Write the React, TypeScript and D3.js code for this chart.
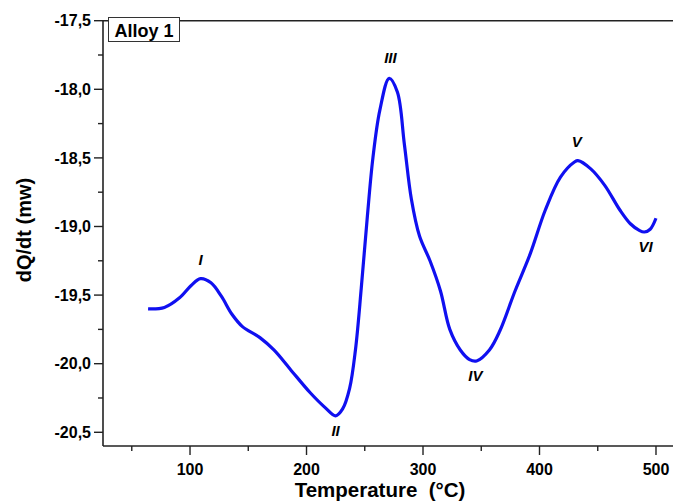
import * as d3 from 'd3';
import { useEffect, useRef } from 'react';

const temps = [64, 78, 91, 101, 109, 118, 127, 136, 145, 160, 172, 186, 203, 216, 225, 231, 237, 242, 247, 252, 257, 263, 271, 278, 284, 290, 297, 306, 315, 323, 332, 340, 346, 357, 366, 379, 392, 405, 418, 430, 433, 444, 456, 469, 478, 486, 490, 495, 500];
const values = [-19.6, -19.59, -19.52, -19.43, -19.38, -19.41, -19.51, -19.64, -19.73, -19.81, -19.9, -20.04, -20.21, -20.32, -20.38, -20.33, -20.18, -19.9, -19.45, -18.95, -18.5, -18.15, -17.92, -18.02, -18.4, -18.8, -19.07, -19.25, -19.47, -19.75, -19.9, -19.97, -19.98, -19.9, -19.76, -19.47, -19.2, -18.88, -18.64, -18.53, -18.52, -18.58, -18.7, -18.88, -18.98, -19.03, -19.04, -19.02, -18.94];

const peakLabels = ['I', 'II', 'III', 'IV', 'V', 'VI'];
const peakTemps = [109, 225, 272, 345, 432, 491];
const peakValues = [-19.38, -20.38, -17.92, -19.98, -18.52, -19.04];
const peakOffsets = [-14, 20, -15, 20, -14, 20];

const xMajor = [100, 200, 300, 400, 500];
const xMinor = [50, 150, 250, 350, 450];
const yMajor = [-17.5, -18, -18.5, -19, -19.5, -20, -20.5];
const yMinor = [-17.75, -18.25, -18.75, -19.25, -19.75, -20.25];

const W = 673;
const H = 502;
const font = '"Liberation Sans", Arial, sans-serif';

export default function App() {
  const ref = useRef<SVGSVGElement>(null);

  useEffect(() => {
    document.body.style.margin = '0';
    const svg = d3.select(ref.current);
    svg.selectAll('*').remove();

    const left = 103;
    const top = 20.7;
    const bottom = 446;

    const x = d3.scaleLinear().domain([25.3, 514.6]).range([left, W]);
    const y = d3.scaleLinear().domain([-20.6, -17.5]).range([bottom, top]);

    const fmt = (v: number) => d3.format('.1f')(v).replace('.', ',').replace('−', '-');

    // frame: left axis, bottom axis, top line
    svg.append('line')
      .attr('x1', left).attr('x2', left).attr('y1', top).attr('y2', bottom)
      .attr('stroke', '#222').attr('stroke-width', 1.6);
    svg.append('line')
      .attr('x1', left).attr('x2', W).attr('y1', bottom).attr('y2', bottom)
      .attr('stroke', '#222').attr('stroke-width', 1.6);
    svg.append('line')
      .attr('x1', left).attr('x2', W).attr('y1', top).attr('y2', top)
      .attr('stroke', '#222').attr('stroke-width', 1.6);

    // y ticks
    svg.selectAll('line.ymaj')
      .data(yMajor)
      .enter()
      .append('line')
      .attr('x1', left - 9).attr('x2', left)
      .attr('y1', (d) => y(d)).attr('y2', (d) => y(d))
      .attr('stroke', '#222').attr('stroke-width', 1.4);
    svg.selectAll('line.ymin')
      .data(yMinor)
      .enter()
      .append('line')
      .attr('x1', left - 5).attr('x2', left)
      .attr('y1', (d) => y(d)).attr('y2', (d) => y(d))
      .attr('stroke', '#222').attr('stroke-width', 1.4);
    svg.selectAll('text.ylab')
      .data(yMajor)
      .enter()
      .append('text')
      .attr('x', left - 12)
      .attr('y', (d) => y(d))
      .attr('dy', '0.36em')
      .attr('text-anchor', 'end')
      .style('font-family', font)
      .style('font-size', '16px')
      .style('font-weight', 'bold')
      .text((d) => fmt(d));

    // x ticks
    svg.selectAll('line.xmaj')
      .data(xMajor)
      .enter()
      .append('line')
      .attr('x1', (d) => x(d)).attr('x2', (d) => x(d))
      .attr('y1', bottom).attr('y2', bottom + 9)
      .attr('stroke', '#222').attr('stroke-width', 1.4);
    svg.selectAll('line.xmin')
      .data(xMinor)
      .enter()
      .append('line')
      .attr('x1', (d) => x(d)).attr('x2', (d) => x(d))
      .attr('y1', bottom).attr('y2', bottom + 5)
      .attr('stroke', '#222').attr('stroke-width', 1.4);
    svg.selectAll('text.xlab')
      .data(xMajor)
      .enter()
      .append('text')
      .attr('x', (d) => x(d))
      .attr('y', bottom + 29)
      .attr('text-anchor', 'middle')
      .style('font-family', font)
      .style('font-size', '16px')
      .style('font-weight', 'bold')
      .text((d) => String(d));

    // axis titles
    svg.append('text')
      .attr('transform', `translate(31,${230}) rotate(-90)`)
      .attr('text-anchor', 'middle')
      .style('font-family', font)
      .style('font-size', '20px')
      .style('font-weight', 'bold')
      .text('dQ/dt (mw)');
    svg.append('text')
      .attr('x', 380)
      .attr('y', 497)
      .attr('text-anchor', 'middle')
      .style('font-family', font)
      .style('font-size', '20.5px')
      .style('font-weight', 'bold')
      .style('white-space', 'pre')
      .text('Temperature  (°C)');

    // curve
    const pts = temps.map((t, i) => [t, values[i]] as [number, number]);
    const line = d3.line<[number, number]>()
      .x((d) => x(d[0]))
      .y((d) => y(d[1]))
      .curve(d3.curveCatmullRom.alpha(0.5));
    svg.append('path')
      .attr('d', line(pts))
      .attr('fill', 'none')
      .attr('stroke', '#1010f0')
      .attr('stroke-width', 3.2)
      .attr('stroke-linejoin', 'round');

    // peak labels
    svg.selectAll('text.peak')
      .data(peakLabels)
      .enter()
      .append('text')
      .attr('x', (d, i) => x(peakTemps[i]))
      .attr('y', (d, i) => y(peakValues[i]) + peakOffsets[i])
      .attr('text-anchor', 'middle')
      .style('font-family', font)
      .style('font-size', '15px')
      .style('font-weight', 'bold')
      .style('font-style', 'italic')
      .text((d) => d);

    // legend box
    svg.append('rect')
      .attr('x', 108.5).attr('y', 17.5)
      .attr('width', 71).attr('height', 24)
      .attr('fill', '#fff')
      .attr('stroke', '#333').attr('stroke-width', 1);
    svg.append('text')
      .attr('x', 144)
      .attr('y', 36.5)
      .attr('text-anchor', 'middle')
      .style('font-family', font)
      .style('font-size', '18px')
      .style('font-weight', 'bold')
      .text('Alloy 1');
  }, []);

  return <svg ref={ref} width={W} height={H} style={{ display: 'block', background: '#fff' }} />;
}
